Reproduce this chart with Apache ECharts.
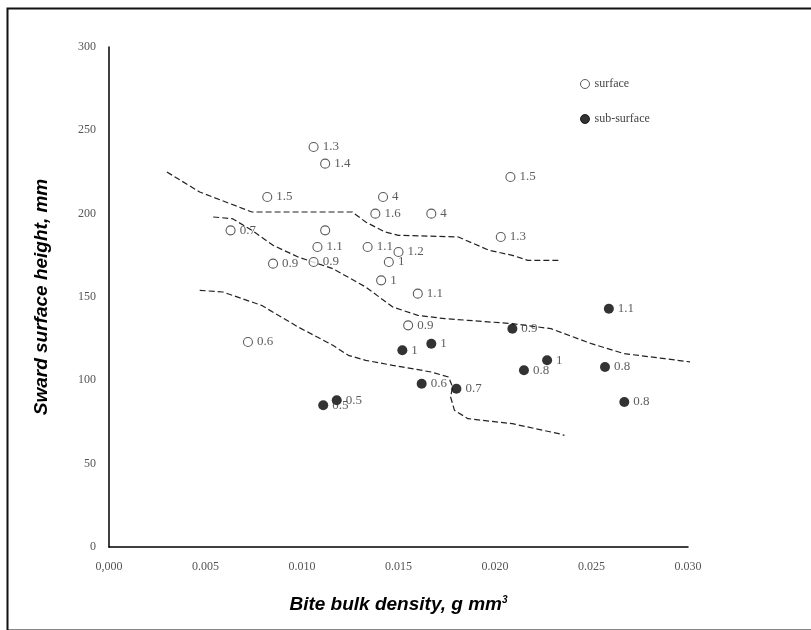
<!DOCTYPE html>
<html>
<head>
<meta charset="utf-8">
<script src="https://cdn.jsdelivr.net/npm/echarts@6/dist/echarts.min.js"></script>
<style>html,body{margin:0;padding:0;background:#fff;}#c{width:811px;height:630px;}</style>
</head>
<body>
<div id="c"></div>
<script>
// ---- data ----
const xTickLabels = ["0,000", "0.005", "0.010", "0.015", "0.020", "0.025", "0.030"];
const yTickLabels = ["0", "50", "100", "150", "200", "250", "300"];

const surfaceX = [0.0106, 0.0112, 0.0082, 0.0142, 0.0138, 0.0167, 0.0208, 0.0203, 0.0063, 0.0112, 0.0108, 0.0134, 0.0150, 0.0145, 0.0085, 0.0106, 0.0141, 0.0160, 0.0155, 0.0072];
const surfaceY = [240, 230, 210, 210, 200, 200, 222, 186, 190, 190, 180, 180, 177, 171, 170, 171, 160, 152, 133, 123];
const surfaceLabels = ["1.3", "1.4", "1.5", "4", "1.6", "4", "1.5", "1.3", "0.7", "", "1.1", "1.1", "1.2", "1", "0.9", "0.9", "1", "1.1", "0.9", "0.6"];

const subX = [0.0152, 0.0167, 0.0209, 0.0162, 0.0180, 0.0111, 0.0118, 0.0227, 0.0215, 0.0257, 0.0267, 0.0259];
const subY = [118, 122, 131, 98, 95, 85, 88, 112, 106, 108, 87, 143];
const subLabels = ["1", "1", "0.9", "0.6", "0.7", "0.5", "0.5", "1", "0.8", "0.8", "0.8", "1.1"];

const contourAX = [0.0030, 0.0047, 0.0074, 0.0100, 0.0126, 0.0133, 0.0143, 0.0150, 0.0181, 0.0197, 0.0209, 0.0217, 0.0233];
const contourAY = [225, 213, 201, 201, 201, 195, 189, 187, 186, 178, 175, 172, 172];
const contourBX = [0.0054, 0.0064, 0.0074, 0.0085, 0.0098, 0.0116, 0.0133, 0.0147, 0.0160, 0.0174, 0.0186, 0.0209, 0.0229, 0.0250, 0.0267, 0.0288, 0.0308];
const contourBY = [198, 197, 190, 181, 174, 167, 156, 144, 139, 137, 136, 134, 131, 122, 116, 113, 110];
const contourCX = [0.0047, 0.0059, 0.0079, 0.0098, 0.0116, 0.0124, 0.0133, 0.0147, 0.0167, 0.0176, 0.0178, 0.0177, 0.0179, 0.0186, 0.0209, 0.0233, 0.0236];
const contourCY = [154, 153, 145, 132, 121, 115, 112, 109, 105, 102, 96, 90, 82, 77, 74, 68, 67];

// ---- build ----
const zip = (xs, ys) => xs.map((x, i) => [x, ys[i]]);
const serif = "Liberation Serif";
const labelStyle = {
  show: true, position: 'right', distance: 4,
  fontFamily: serif, fontSize: 13, color: '#333'
};

function pointSeries(name, xs, ys, labels, filled) {
  return {
    name: name, type: 'scatter', symbol: 'circle',
    symbolSize: filled ? 10 : 9,
    itemStyle: filled ? { color: '#000', borderColor: '#000', borderWidth: 0 }
                      : { color: '#fff', borderColor: '#333', borderWidth: 1.1 },
    data: xs.map((x, i) => ({ value: [x, ys[i]], label: { formatter: labels[i] } })),
    label: labelStyle,
    z: 5
  };
}
function contour(xs, ys) {
  return {
    type: 'line', data: zip(xs, ys), symbol: 'none', clip: false, silent: true,
    lineStyle: { color: '#222', width: 1.2, type: [6, 3] }, z: 3
  };
}

const chart = echarts.init(document.getElementById('c'), null, { renderer: 'canvas' });
chart.setOption({
  animation: false,
  backgroundColor: '#fff',
  grid: { left: 109, right: 123, top: 47, bottom: 83 },
  legend: {
    data: ['surface', 'sub-surface'],
    orient: 'vertical', left: 575, top: 73, itemGap: 23,
    itemWidth: 9, itemHeight: 9,
    itemStyle: { borderWidth: 1 },
    textStyle: { fontFamily: serif, fontSize: 12, color: '#444' }
  },
  xAxis: {
    type: 'value', min: 0, max: 0.03, interval: 0.005,
    axisLine: { show: true, onZero: false, lineStyle: { color: '#000', width: 1.5 } },
    axisTick: { show: false },
    splitLine: { show: false },
    axisLabel: {
      margin: 14, fontFamily: serif, fontSize: 12, color: '#555',
      formatter: v => xTickLabels[Math.round(v / 0.005)]
    },
    name: 'Bite bulk density, g mm{sup|3}',
    nameLocation: 'middle', nameGap: 48,
    nameTextStyle: {
      fontFamily: 'Liberation Sans', fontWeight: 'bold', fontStyle: 'italic',
      fontSize: 19, color: '#000',
      rich: { sup: { fontFamily: 'Liberation Sans', fontWeight: 'bold', fontStyle: 'italic', fontSize: 10, color: '#000', verticalAlign: 'top', padding: [0, 0, 10, 0] } }
    }
  },
  yAxis: {
    type: 'value', min: 0, max: 300, interval: 50,
    axisLine: { show: true, onZero: false, lineStyle: { color: '#000', width: 1.5 } },
    axisTick: { show: false },
    splitLine: { show: false },
    axisLabel: {
      margin: 13, fontFamily: serif, fontSize: 12, color: '#555',
      formatter: v => yTickLabels[Math.round(v / 50)]
    },
    name: 'Sward surface height, mm',
    nameLocation: 'middle', nameGap: 58, nameRotate: 90,
    nameTextStyle: {
      fontFamily: 'Liberation Sans', fontWeight: 'bold', fontStyle: 'italic',
      fontSize: 19, color: '#000'
    }
  },
  graphic: [{
    type: 'rect', left: 5, top: 6, silent: true,
    shape: { width: 812, height: 622 },
    style: { fill: 'none', stroke: '#111', lineWidth: 2 }
  }],
  series: [
    contour(contourAX, contourAY),
    contour(contourBX, contourBY),
    contour(contourCX, contourCY),
    pointSeries('surface', surfaceX, surfaceY, surfaceLabels, false),
    pointSeries('sub-surface', subX, subY, subLabels, true)
  ]
});
</script>
</body>
</html>
